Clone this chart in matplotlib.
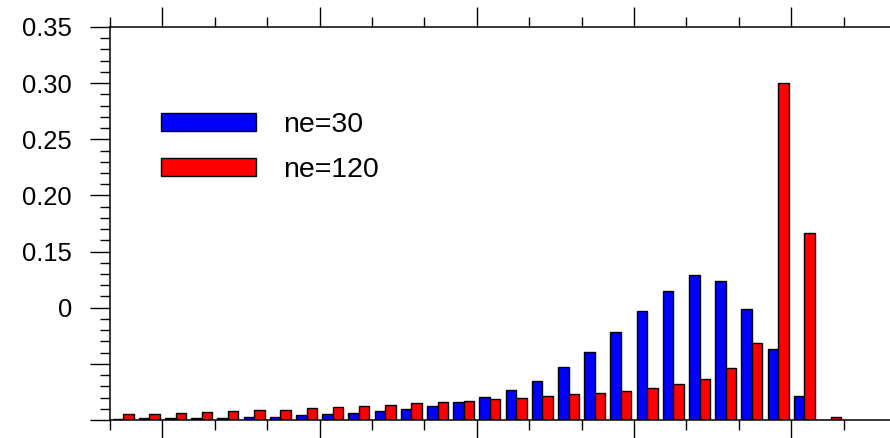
import numpy as np
import matplotlib.pyplot as plt
from matplotlib.ticker import MultipleLocator

plt.rcParams['font.family'] = ['Liberation Sans', 'DejaVu Sans']

# relative frequency per bin for the two resolutions
ne30 = [0.0010, 0.0015, 0.0020, 0.0020, 0.0022, 0.0030, 0.0030, 0.0042,
        0.0051, 0.0062, 0.0077, 0.0098, 0.0125, 0.0157, 0.0205, 0.0264,
        0.0347, 0.0472, 0.0603, 0.0781, 0.0973, 0.1152, 0.1289, 0.1235,
        0.0986, 0.0630, 0.0214, 0.0]
ne120 = [0.0054, 0.0057, 0.0066, 0.0075, 0.0078, 0.0087, 0.0093, 0.0105,
         0.0113, 0.0125, 0.0136, 0.0148, 0.0157, 0.0169, 0.0184, 0.0196,
         0.0211, 0.0229, 0.0243, 0.0261, 0.0285, 0.0318, 0.0368, 0.0460,
         0.0683, 0.2998, 0.1663, 0.0027]
labels = ['ne=30', 'ne=120']

ytick_vals = [0.0, 0.05, 0.10, 0.15, 0.20, 0.25, 0.30, 0.35]
ytick_text = ['', '', '0', '0.15', '0.20', '0.25', '0.30', '0.35']

fig = plt.figure(figsize=(8.9, 4.38), dpi=100)
ax = fig.add_axes([110 / 890, 18 / 438, 786 / 890, 393 / 438])

x = np.arange(len(ne30))
w = 0.4
ax.bar(x - w / 2, ne30, width=w, color='#0000ff', edgecolor='black',
       linewidth=1.0, label=labels[0])
ax.bar(x + w / 2, ne120, width=w, color='#ff0000', edgecolor='black',
       linewidth=1.0, label=labels[1])

ax.set_xlim(-0.5, 29.5)
ax.set_ylim(0, 0.35)

ax.set_xticks(np.arange(1.5, 30, 6))
ax.set_xticks([v for v in np.arange(-0.5, 30, 2) if (v - 1.5) % 6 != 0], minor=True)
ax.set_xticklabels([])
ax.set_yticks(ytick_vals)
ax.set_yticklabels(ytick_text)
ax.yaxis.set_minor_locator(MultipleLocator(0.01))

ax.tick_params(axis='both', which='both', direction='out', width=1.0)
ax.tick_params(axis='x', which='both', top=True, bottom=True)
ax.tick_params(axis='y', which='both', left=True, right=False)
ax.tick_params(which='major', length=14.4)
ax.tick_params(which='minor', length=7.2)
ax.tick_params(axis='y', which='major', labelsize=18.4, pad=13)

for side in ['left', 'top', 'bottom']:
    ax.spines[side].set_linewidth(1.1)
ax.spines['right'].set_visible(False)

ax.legend(loc='upper left', bbox_to_anchor=(0.0504, 0.8125), frameon=False,
          fontsize=20.5, handlelength=3.33, handleheight=0.6,
          handletextpad=0.94, labelspacing=0.68, borderaxespad=0)

fig.savefig('out.png', dpi=100)
